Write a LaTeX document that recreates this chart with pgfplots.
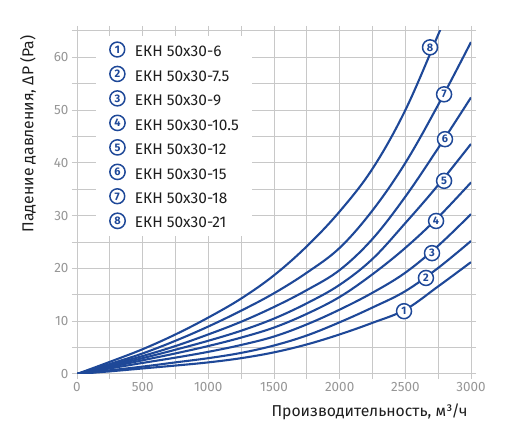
\documentclass[border=0pt]{standalone}
\usepackage{pgfplots}
\pgfplotsset{compat=1.18}
\usepackage{fontspec}
\setmainfont{Fira Sans}
\definecolor{cblue}{RGB}{30,72,152}
\definecolor{gridc}{RGB}{200,200,200}
\definecolor{tickc}{RGB}{150,150,150}
\definecolor{txtc}{RGB}{30,30,30}
\tikzset{cn/.style={circle, draw=cblue, line width=1.5pt, fill=white, text=cblue, inner sep=0pt, minimum size=13.5bp, font=\fontsize{11}{11}\selectfont\bfseries}}
\pgfplotsset{ekh/.style={cblue, line width=2.1pt, no markers}}
\begin{document}
\begin{tikzpicture}
\begin{axis}[
 scale only axis, width=394bp, height=343bp,
 xmin=0, xmax=3000, ymin=0, ymax=65,
 xtick={0,500,...,3000}, ytick={0,10,...,60},
 minor xtick={250,750,...,2750}, minor ytick={5,15,...,65},
 grid=both, grid style={gridc, line width=1pt},
 axis line style={gridc, line width=1pt},
 tick align=outside, major tick length=5bp, minor tick length=5bp,
 tick style={gridc, line width=1pt},
 ticklabel style={text=tickc, font=\fontsize{13.5}{13.5}\selectfont},
 /pgf/number format/assume math mode=true,
 /pgf/number format/set thousands separator={},
 xlabel={Производительность, м³/ч},
 ylabel={Падение давления, ΔP (Pa)},
 label style={text=txtc, font=\fontsize{15.8}{15.8}\selectfont},
 xlabel style={at={(axis description cs:1,-0.111)}, anchor=east},
 ylabel style={at={(axis description cs:-0.124,0.997)}, anchor=east},
 legend style={at={(axis description cs:0.048,0.985)}, anchor=north west, draw=none, fill=white,
   inner xsep=13bp, inner ysep=5bp, row sep=6.0bp, column sep=9bp,
   nodes={inner sep=0pt, text height=11bp, text depth=3bp, text=txtc, font=\fontsize{15.5}{15.5}\selectfont}},
 legend cell align=left,
]
\addplot[ekh, smooth, tension=0.6, legend image code/.code={\node[cn] at (0,0.6ex){1};}] coordinates {(0,0)(250,0.5)(500,1.05)(750,1.6)(1000,2.2)(1250,3.0)(1500,4.1)(1750,5.6)(2000,7.5)(2250,9.7)(2500,12.2)(2750,16.6)(3000,21.2)};
\addlegendentry{ЕКН 50x30-6}
\addplot[ekh, smooth, tension=0.6, legend image code/.code={\node[cn] at (0,0.6ex){2};}] coordinates {(0,0)(250,0.7)(500,1.4)(750,2.2)(1000,3.0)(1250,4.0)(1500,5.4)(1750,7.3)(2000,9.8)(2250,12.6)(2500,15.7)(2750,20.1)(3000,25.2)};
\addlegendentry{ЕКН 50x30-7.5}
\addplot[ekh, smooth, tension=0.6, legend image code/.code={\node[cn] at (0,0.6ex){3};}] coordinates {(0,0)(250,1.05)(500,2.1)(750,3.1)(1000,4.2)(1250,5.5)(1500,7.1)(1750,9.4)(2000,12.2)(2250,15.4)(2500,19.2)(2750,24.3)(3000,30.3)};
\addlegendentry{ЕКН 50x30-9}
\addplot[ekh, smooth, tension=0.6, legend image code/.code={\node[cn] at (0,0.6ex){4};}] coordinates {(0,0)(250,1.3)(500,2.6)(750,3.9)(1000,5.3)(1250,6.9)(1500,8.8)(1750,11.4)(2000,14.6)(2250,18.9)(2500,23.9)(2750,29.7)(3000,36.3)};
\addlegendentry{ЕКН 50x30-10.5}
\addplot[ekh, smooth, tension=0.6, legend image code/.code={\node[cn] at (0,0.6ex){5};}] coordinates {(0,0)(250,1.5)(500,3.0)(750,4.6)(1000,6.3)(1250,8.2)(1500,10.5)(1750,13.4)(2000,16.9)(2250,21.8)(2500,28.6)(2750,35.8)(3000,43.6)};
\addlegendentry{ЕКН 50x30-12}
\addplot[ekh, smooth, tension=0.6, legend image code/.code={\node[cn] at (0,0.6ex){6};}] coordinates {(0,0)(250,1.7)(500,3.4)(750,5.3)(1000,7.5)(1250,9.9)(1500,12.7)(1750,15.9)(2000,19.7)(2250,25.6)(2500,33.6)(2750,42.8)(3000,52.4)};
\addlegendentry{ЕКН 50x30-15}
\addplot[ekh, smooth, tension=0.6, legend image code/.code={\node[cn] at (0,0.6ex){7};}] coordinates {(0,0)(250,1.9)(500,3.9)(750,6.3)(1000,9.0)(1250,12.0)(1500,15.3)(1750,19.2)(2000,23.9)(2250,31.0)(2500,40.0)(2750,51.0)(3000,62.9)};
\addlegendentry{ЕКН 50x30-18}
\addplot[ekh, smooth, tension=0.6, legend image code/.code={\node[cn] at (0,0.6ex){8};}] coordinates {(0,0)(250,2.3)(500,4.7)(750,7.5)(1000,10.7)(1250,14.3)(1500,18.7)(1750,24.2)(2000,30.8)(2250,38.9)(2500,50.0)(2750,64.3)(2800,67.3)};
\addlegendentry{ЕКН 50x30-21}
\node[cn, minimum size=15bp] at (axis cs:2490,11.9) {1};
\node[cn, minimum size=15bp] at (axis cs:2657,18.2) {2};
\node[cn, minimum size=15bp] at (axis cs:2703,22.9) {3};
\node[cn, minimum size=15bp] at (axis cs:2734,29.0) {4};
\node[cn, minimum size=15bp] at (axis cs:2795,36.6) {5};
\node[cn, minimum size=15bp] at (axis cs:2802,44.5) {6};
\node[cn, minimum size=15bp] at (axis cs:2795,53.0) {7};
\node[cn, minimum size=15bp] at (axis cs:2688,61.9) {8};
\node[anchor=east, text=black, font=\bfseries\fontsize{18}{18}\selectfont] at (axis description cs:1.0,1.05) {ЕКН 50x30};
\coordinate (BL) at (rel axis cs:0,0);
\coordinate (TR) at (rel axis cs:1,1);
\end{axis}
\pgfresetboundingbox
\path ([xshift=-77bp,yshift=-58bp]BL) rectangle ([xshift=34bp,yshift=31bp]TR);
\end{tikzpicture}
\end{document}
